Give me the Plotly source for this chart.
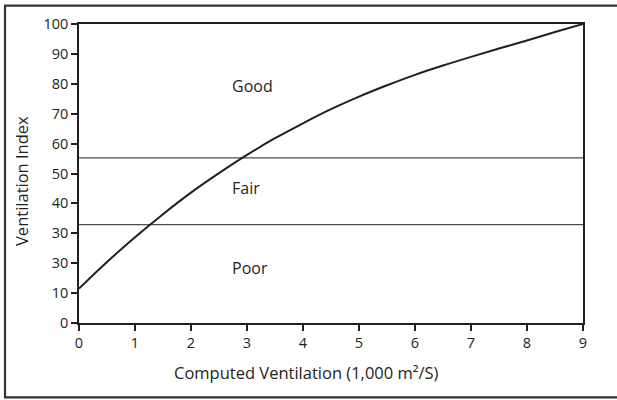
import plotly.graph_objects as go

# Curve data
vent_x = [0, 0.5, 1.0, 1.5, 2.0, 2.5, 3.0, 3.5, 4.0, 4.5, 5.0, 5.5, 6.0, 6.5, 7.0, 7.5, 8.0, 8.5, 9.0]
vent_y = [11.5, 20.4, 28.7, 36.4, 43.6, 50.1, 56.2, 61.8, 66.8, 71.5, 75.7, 79.5, 83.0, 86.1, 89.0, 91.8, 94.5, 97.3, 100]

# Class boundaries
boundary_values = [55.25, 32.9]
region_labels = ["Good", "Fair", "Poor"]
region_label_y = [79.3, 45.0, 18.3]
region_label_x = 2.70

x_ticks = [0, 1, 2, 3, 4, 5, 6, 7, 8, 9]
y_tickvals = [0, 10, 20, 30, 40, 50, 60, 70, 80, 90, 100]
y_ticktext = ["0", "10", "30", "30", "40", "50", "60", "70", "80", "90", "100"]

FONT = "Open Sans"
INK = "#231f20"

fig = go.Figure()

for b in boundary_values:
    fig.add_trace(go.Scatter(x=[0, 9], y=[b, b], mode="lines",
                             line=dict(color="#4d4d4f", width=1.3),
                             showlegend=False, hoverinfo="skip"))

fig.add_trace(go.Scatter(x=vent_x, y=vent_y, mode="lines",
                         line=dict(color=INK, width=2, shape="spline", smoothing=1.0),
                         showlegend=False))

for lab, ly in zip(region_labels, region_label_y):
    fig.add_annotation(x=region_label_x, y=ly, text=lab, showarrow=False,
                       xanchor="left", yanchor="middle",
                       font=dict(family=FONT, size=16, color=INK))

# axis titles placed as annotations (x title is off-centre in the reference)
fig.add_annotation(xref="paper", yref="paper", x=-0.1137, y=0.474,
                   text="Ventilation Index", textangle=-90, showarrow=False,
                   xanchor="center", yanchor="middle",
                   font=dict(family=FONT, size=16.5, color=INK))
fig.add_annotation(xref="paper", yref="paper", x=0.4518, y=-0.165,
                   text="Computed Ventilation (1,000 m²/S)", showarrow=False,
                   xanchor="center", yanchor="middle",
                   font=dict(family=FONT, size=16.5, color=INK))

# outer frame (right side clipped in the reference)
fig.add_shape(type="rect", xref="paper", yref="paper",
              x0=-0.1468, x1=1.2, y0=-0.249, y1=1.0612,
              line=dict(color="#333333", width=2.2), fillcolor="rgba(0,0,0,0)",
              layer="above")

fig.update_layout(
    width=617, height=400,
    margin=dict(l=79, r=34, t=24, b=77, autoexpand=False),
    paper_bgcolor="white", plot_bgcolor="white",
    font=dict(family=FONT, size=14, color=INK),
    showlegend=False,
)
fig.update_xaxes(
    range=[0, 9], tickvals=x_ticks, ticks="outside", ticklen=6, tickwidth=1.5,
    tickcolor=INK, showline=True, linecolor=INK, linewidth=1.6, mirror=True,
    showgrid=False, zeroline=False,
    tickfont=dict(family=FONT, size=14.5, color=INK),
)
fig.update_yaxes(
    range=[0, 100], tickvals=y_tickvals, ticktext=y_ticktext, ticks="outside",
    ticklen=6, tickwidth=1.5, tickcolor=INK, showline=True, linecolor=INK,
    linewidth=1.6, mirror=True, showgrid=False, zeroline=False,
    tickfont=dict(family=FONT, size=14.5, color=INK),
)

fig.write_html("out.html", config={"displayModeBar": False},
               post_script="document.body.style.margin='0px';document.body.style.overflow='hidden';")
